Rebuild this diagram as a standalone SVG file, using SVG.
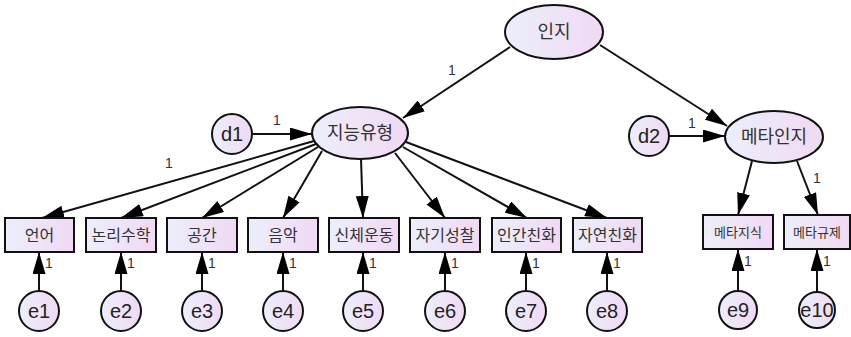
<svg xmlns="http://www.w3.org/2000/svg" width="851" height="337" viewBox="0 0 851 337">
<defs>
<linearGradient id="g" x1="0" y1="0" x2="1" y2="0">
<stop offset="0" stop-color="#eceffb"/>
<stop offset="1" stop-color="#f1d9f4"/>
</linearGradient>
<marker id="ah" markerUnits="userSpaceOnUse" markerWidth="22" markerHeight="13" refX="22" refY="6.5" orient="auto">
<path d="M0,0 L22,6.5 L0,13 z" fill="#000"/>
</marker>
</defs>
<style>
.n{fill:url(#g);stroke:#111;stroke-width:2}
.c path,.c line{stroke:#111;stroke-width:2;fill:none;marker-end:url(#ah)}
.k{font-family:"Noto Sans CJK KR","Noto Sans",sans-serif;fill:#333;text-anchor:middle}
.l{font-family:"Liberation Sans",Arial,sans-serif;fill:#222;text-anchor:middle;font-size:20px}
.one{font-family:"Liberation Sans",Arial,sans-serif;fill:#333;font-size:14px}
</style>
<rect width="851" height="337" fill="#fff"/>
<g class="c" id="connectors">
<line x1="510" y1="47" x2="403" y2="118"/>
<line x1="600" y1="45" x2="727" y2="126"/>
<line x1="252" y1="134" x2="312" y2="134"/>
<line x1="669" y1="136" x2="725" y2="136"/>
<line x1="314" y1="141" x2="42" y2="218"/>
<line x1="316" y1="144" x2="121" y2="218"/>
<line x1="318" y1="147" x2="202" y2="218"/>
<line x1="322" y1="151" x2="283" y2="218"/>
<line x1="361" y1="159" x2="363" y2="218"/>
<line x1="395" y1="153" x2="445" y2="218"/>
<line x1="403" y1="147" x2="527" y2="218"/>
<line x1="406" y1="142" x2="607" y2="218"/>
<line x1="752" y1="161" x2="738" y2="215"/>
<line x1="797" y1="161" x2="818" y2="215"/>
<line x1="39" y1="291" x2="39" y2="252"/>
<line x1="121" y1="291" x2="121" y2="252"/>
<line x1="202" y1="291" x2="202" y2="252"/>
<line x1="283" y1="291" x2="283" y2="252"/>
<line x1="363" y1="291" x2="363" y2="252"/>
<line x1="445" y1="291" x2="445" y2="252"/>
<line x1="526" y1="291" x2="526" y2="252"/>
<line x1="607" y1="291" x2="607" y2="252"/>
<line x1="738" y1="291" x2="738" y2="249"/>
<line x1="817" y1="292" x2="817" y2="249"/>
</g>
<g id="labels">
<text class="one" x="448" y="75">1</text>
<text class="one" x="273" y="125">1</text>
<text class="one" x="688" y="128">1</text>
<text class="one" x="165" y="168">1</text>
<text class="one" x="813" y="183">1</text>
<text class="one" x="45" y="268">1</text>
<text class="one" x="127" y="268">1</text>
<text class="one" x="208" y="268">1</text>
<text class="one" x="289" y="268">1</text>
<text class="one" x="369" y="268">1</text>
<text class="one" x="451" y="268">1</text>
<text class="one" x="532" y="268">1</text>
<text class="one" x="613" y="268">1</text>
<text class="one" x="744" y="266">1</text>
<text class="one" x="823" y="266">1</text>
</g>
<g id="inji"><ellipse class="n" cx="554" cy="32" rx="49" ry="27"/><text class="k" x="554" y="38" font-size="18">인지</text></g>
<g id="jineung"><ellipse class="n" cx="360" cy="133" rx="48" ry="26"/><text class="k" x="360" y="139" font-size="18">지능유형</text></g>
<g id="metainji"><ellipse class="n" cx="774" cy="137" rx="49" ry="26"/><text class="k" x="774" y="143" font-size="18">메타인지</text></g>
<g id="d1"><circle class="n" cx="232" cy="134" r="20"/><text class="l" x="232" y="141">d1</text></g>
<g id="d2"><circle class="n" cx="649" cy="136" r="20"/><text class="l" x="649" y="143">d2</text></g>
<g id="b1"><rect class="n" x="5" y="218" width="69" height="34"/><text class="k" x="39.5" y="241" font-size="16">언어</text></g>
<g id="b2"><rect class="n" x="86" y="218" width="70" height="34"/><text class="k" x="121" y="241" font-size="16">논리수학</text></g>
<g id="b3"><rect class="n" x="167" y="218" width="70" height="34"/><text class="k" x="202" y="241" font-size="16">공간</text></g>
<g id="b4"><rect class="n" x="248" y="218" width="70" height="34"/><text class="k" x="283" y="241" font-size="16">음악</text></g>
<g id="b5"><rect class="n" x="329" y="218" width="70" height="34"/><text class="k" x="364" y="241" font-size="16">신체운동</text></g>
<g id="b6"><rect class="n" x="410" y="218" width="70" height="34"/><text class="k" x="445" y="241" font-size="16">자기성찰</text></g>
<g id="b7"><rect class="n" x="492" y="218" width="69" height="34"/><text class="k" x="526.5" y="241" font-size="16">인간친화</text></g>
<g id="b8"><rect class="n" x="573" y="218" width="69" height="34"/><text class="k" x="607.5" y="241" font-size="16">자연친화</text></g>
<g id="b9"><rect class="n" x="703" y="215" width="70" height="34"/><text class="k" x="738" y="237" font-size="13">메타지식</text></g>
<g id="b10"><rect class="n" x="784" y="215" width="66" height="34"/><text class="k" x="817" y="237" font-size="13">메타규제</text></g>
<g id="e1"><circle class="n" cx="39" cy="311" r="20"/><text class="l" x="39" y="318">e1</text></g>
<g id="e2"><circle class="n" cx="121" cy="311" r="20"/><text class="l" x="121" y="318">e2</text></g>
<g id="e3"><circle class="n" cx="202" cy="311" r="20"/><text class="l" x="202" y="318">e3</text></g>
<g id="e4"><circle class="n" cx="283" cy="311" r="20"/><text class="l" x="283" y="318">e4</text></g>
<g id="e5"><circle class="n" cx="363" cy="311" r="20"/><text class="l" x="363" y="318">e5</text></g>
<g id="e6"><circle class="n" cx="445" cy="311" r="20"/><text class="l" x="445" y="318">e6</text></g>
<g id="e7"><circle class="n" cx="526" cy="311" r="20"/><text class="l" x="526" y="318">e7</text></g>
<g id="e8"><circle class="n" cx="607" cy="311" r="20"/><text class="l" x="607" y="318">e8</text></g>
<g id="e9"><circle class="n" cx="738" cy="310" r="19"/><text class="l" x="738" y="317">e9</text></g>
<g id="e10"><circle class="n" cx="817" cy="310" r="18"/><text class="l" x="817" y="317">e10</text></g>
</svg>
